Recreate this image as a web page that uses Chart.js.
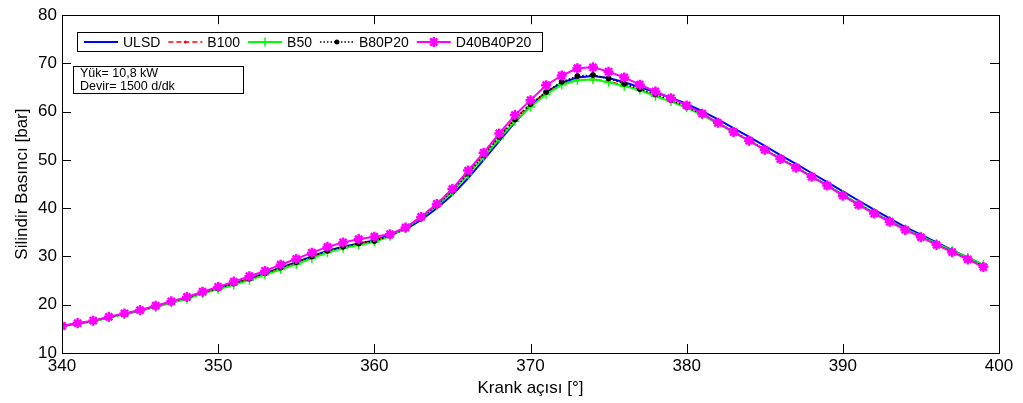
<!DOCTYPE html>
<html>
<head>
<meta charset="utf-8">
<script src="https://cdn.jsdelivr.net/npm/chart.js@4.4.1/dist/chart.umd.min.js"></script>
<style>
  html, body { margin: 0; padding: 0; background: #fff; }
  #wrap { width: 1023px; height: 403px; }
</style>
</head>
<body>
<div id="wrap"><canvas id="pressureChart"></canvas></div>
<script>
// krank açısı [°]
const crankAngle = [340, 341, 342, 343, 344, 345, 346, 347, 348, 349,
    350, 351, 352, 353, 354, 355, 356, 357, 358, 359,
    360, 361, 362, 363, 364, 365, 366, 367, 368, 369,
    370, 371, 372, 373, 374, 375, 376, 377, 378, 379,
    380, 381, 382, 383, 384, 385, 386, 387, 388, 389,
    390, 391, 392, 393, 394, 395, 396, 397, 398, 399];

const ulsd = [15.6, 16.1, 16.6, 17.4, 18.1, 18.8, 19.6, 20.5, 21.4, 22.4,
    23.4, 24.4, 25.4, 26.5, 27.7, 28.8, 30.0, 31.2, 32.0, 32.7,
    33.3, 34.5, 35.6, 37.6, 40.0, 42.8, 46.2, 50.0, 53.9, 57.8,
    61.2, 64.0, 66.0, 67.1, 67.4, 67.0, 66.1, 65.1, 64.0, 62.9,
    61.6, 60.1, 58.4, 56.6, 54.8, 52.9, 51.0, 49.2, 47.3, 45.4,
    43.5, 41.6, 39.7, 37.9, 36.1, 34.5, 32.9, 31.3, 29.8, 28.2];

const b100 = [15.6, 16.1, 16.6, 17.4, 18.1, 18.8, 19.6, 20.5, 21.4, 22.4,
    23.4, 24.4, 25.4, 26.5, 27.6, 28.7, 29.9, 31.1, 31.9, 32.6,
    33.2, 34.4, 36.0, 38.3, 41.0, 44.0, 47.5, 51.2, 55.0, 58.6,
    61.6, 64.0, 65.7, 66.6, 66.7, 66.3, 65.5, 64.5, 63.3, 62.2,
    60.9, 59.3, 57.6, 55.8, 54.0, 52.1, 50.3, 48.5, 46.6, 44.8,
    42.8, 40.9, 39.1, 37.4, 35.7, 34.2, 32.6, 31.1, 29.6, 28.1];

const b50 = [15.5, 16.0, 16.5, 17.3, 18.0, 18.7, 19.5, 20.4, 21.2, 22.3,
    23.2, 24.1, 25.1, 26.2, 27.3, 28.4, 29.6, 30.8, 31.7, 32.4,
    33.0, 34.2, 35.8, 38.0, 40.5, 43.4, 47.0, 50.6, 54.4, 58.0,
    61.0, 63.6, 65.6, 66.5, 66.7, 66.1, 65.3, 64.5, 63.2, 62.1,
    60.8, 59.3, 57.5, 55.7, 53.9, 52.1, 50.2, 48.5, 46.6, 44.8,
    42.8, 40.9, 39.1, 37.4, 35.7, 34.2, 32.7, 31.2, 29.8, 28.3];

const b80p20 = [15.6, 16.1, 16.6, 17.4, 18.1, 18.8, 19.7, 20.6, 21.5, 22.5,
    23.4, 24.4, 25.4, 26.5, 27.7, 28.8, 30.0, 31.2, 32.0, 32.7,
    33.2, 34.3, 35.8, 38.0, 40.6, 43.6, 47.2, 51.0, 54.8, 58.4,
    61.6, 64.1, 66.2, 67.4, 67.6, 66.9, 65.8, 64.7, 63.6, 62.4,
    61.0, 59.5, 57.7, 55.9, 54.1, 52.2, 50.3, 48.5, 46.6, 44.8,
    42.7, 40.8, 39.0, 37.3, 35.6, 34.1, 32.5, 31.0, 29.5, 28.0];

const d40b40p20 = [15.6, 16.2, 16.7, 17.5, 18.2, 18.9, 19.8, 20.7, 21.6, 22.7,
    23.7, 24.8, 25.9, 27.0, 28.3, 29.5, 30.8, 32.0, 32.9, 33.6,
    34.1, 34.6, 36.0, 38.2, 40.9, 44.0, 47.8, 51.5, 55.5, 59.3,
    62.4, 65.5, 67.5, 69.0, 69.2, 68.3, 67.1, 65.6, 64.2, 62.8,
    61.3, 59.6, 57.7, 55.8, 54.0, 52.1, 50.2, 48.4, 46.5, 44.7,
    42.6, 40.7, 38.9, 37.2, 35.5, 34.0, 32.4, 30.9, 29.4, 27.8];

const yTicks = [10, 20, 30, 40, 50, 60, 70, 80];
const xTicks = [340, 350, 360, 370, 380, 390, 400];
const infoLines = ['Yük= 10,8 kW', 'Devir= 1500 d/dk'];

function toPoints(values) {
    return values.map((v, i) => ({ x: crankAngle[i], y: v }));
}

const font = 'Arial, "Liberation Sans", sans-serif';

// MATLAB tarzı çerçeve, içe dönük çentikler, lejant ve bilgi kutusu
const matlabFrame = {
    id: 'matlabFrame',
    afterDraw(chart) {
        const ctx = chart.ctx;
        const a = chart.chartArea;
        const xs = chart.scales.x, ys = chart.scales.y;
        const tl = 9;
        ctx.save();
        ctx.strokeStyle = '#000';
        ctx.lineWidth = 1;
        ctx.setLineDash([]);
        ctx.strokeRect(Math.round(a.left) + 0.5, Math.round(a.top) + 0.5,
            Math.round(a.right - a.left), Math.round(a.bottom - a.top));
        ctx.beginPath();
        yTicks.forEach(v => {
            const y = Math.round(ys.getPixelForValue(v)) + 0.5;
            ctx.moveTo(a.left, y); ctx.lineTo(a.left + tl, y);
            ctx.moveTo(a.right, y); ctx.lineTo(a.right - tl, y);
        });
        xTicks.forEach(v => {
            const x = Math.round(xs.getPixelForValue(v)) + 0.5;
            ctx.moveTo(x, a.bottom); ctx.lineTo(x, a.bottom - tl);
            ctx.moveTo(x, a.top); ctx.lineTo(x, a.top + tl);
        });
        ctx.stroke();

        // lejant
        const lx = 77, ly = 32, lw = 465, lh = 19;
        ctx.fillStyle = '#fff';
        ctx.fillRect(lx, ly, lw, lh);
        ctx.strokeRect(lx + 0.5, ly + 0.5, lw, lh);
        ctx.font = '14px ' + font;
        ctx.textBaseline = 'middle';
        const my = ly + lh / 2 + 0.5;
        let x = lx + 7;
        chart.data.datasets.forEach(ds => {
            ctx.strokeStyle = ds.borderColor;
            ctx.lineWidth = ds.borderWidth;
            ctx.setLineDash(ds.borderDash || []);
            ctx.beginPath();
            ctx.moveTo(x, my); ctx.lineTo(x + 34, my);
            ctx.stroke();
            ctx.setLineDash([]);
            drawMarker(ctx, ds, x + 17, my);
            ctx.fillStyle = '#000';
            ctx.fillText(ds.label, x + 39, my + 1);
            x += 39 + ctx.measureText(ds.label).width + 8;
        });

        // bilgi kutusu
        ctx.lineWidth = 1;
        ctx.strokeStyle = '#000';
        ctx.fillStyle = '#fff';
        ctx.fillRect(73, 66, 170, 27);
        ctx.strokeRect(73.5, 66.5, 170, 27);
        ctx.fillStyle = '#000';
        ctx.font = '12.5px ' + font;
        ctx.fillText(infoLines[0], 80, 74);
        ctx.fillText(infoLines[1], 80, 87);
        ctx.restore();
    }
};

function drawMarker(ctx, ds, x, y) {
    const r = ds.pointRadius;
    if (!r) return;
    ctx.save();
    ctx.strokeStyle = ds.pointBorderColor || ds.borderColor;
    ctx.fillStyle = ds.pointBackgroundColor || ds.borderColor;
    ctx.lineWidth = ds.pointBorderWidth || 1;
    ctx.beginPath();
    if (ds.pointStyle === 'cross') {
        ctx.moveTo(x - r, y); ctx.lineTo(x + r, y);
        ctx.moveTo(x, y - r); ctx.lineTo(x, y + r);
        ctx.stroke();
    } else if (ds.pointStyle === 'star') {
        for (let k = 0; k < 4; k++) {
            const ang = k * Math.PI / 4;
            ctx.moveTo(x - r * Math.cos(ang), y - r * Math.sin(ang));
            ctx.lineTo(x + r * Math.cos(ang), y + r * Math.sin(ang));
        }
        ctx.stroke();
    } else {
        ctx.arc(x, y, r, 0, Math.PI * 2);
        ctx.fill();
    }
    ctx.restore();
}

new Chart(document.getElementById('pressureChart'), {
    type: 'line',
    data: {
        datasets: [{
            label: 'ULSD',
            data: toPoints(ulsd),
            borderColor: '#0000ff',
            borderWidth: 2,
            pointRadius: 0,
            order: 5
        }, {
            label: 'B100',
            data: toPoints(b100),
            borderColor: '#ff0000',
            borderWidth: 1.5,
            borderDash: [5, 3],
            pointStyle: 'circle',
            pointRadius: 1.5,
            pointBackgroundColor: '#ff0000',
            pointBorderColor: '#ff0000',
            pointBorderWidth: 1,
            order: 4
        }, {
            label: 'B50',
            data: toPoints(b50),
            borderColor: '#00ff00',
            borderWidth: 2,
            pointStyle: 'cross',
            pointRadius: 4.5,
            pointBorderColor: '#00ff00',
            pointBorderWidth: 1.5,
            order: 3
        }, {
            label: 'B80P20',
            data: toPoints(b80p20),
            borderColor: '#000000',
            borderWidth: 1.5,
            borderDash: [1.5, 2],
            pointStyle: 'circle',
            pointRadius: 2.5,
            pointBackgroundColor: '#000000',
            pointBorderColor: '#000000',
            pointBorderWidth: 1,
            order: 2
        }, {
            label: 'D40B40P20',
            data: toPoints(d40b40p20),
            borderColor: '#ff00ff',
            borderWidth: 2,
            pointStyle: 'star',
            pointRadius: 5,
            pointBackgroundColor: '#ff00ff',
            pointBorderColor: '#ff00ff',
            pointBorderWidth: 2.5,
            order: 1
        }]
    },
    options: {
        responsive: true,
        maintainAspectRatio: false,
        animation: false,
        layout: { padding: { top: 15, right: 24, left: 0, bottom: 0 } },
        plugins: {
            legend: { display: false },
            tooltip: { enabled: false }
        },
        scales: {
            x: {
                type: 'linear',
                min: 340,
                max: 400,
                afterFit: s => { s.height = 50; },
                afterBuildTicks: s => { s.ticks = xTicks.map(v => ({ value: v })); },
                grid: { display: false, drawTicks: false },
                border: { display: false },
                ticks: { color: '#000', font: { size: 17, family: font }, padding: 3, maxRotation: 0 },
                title: {
                    display: true,
                    text: 'Krank açısı [°]',
                    color: '#000',
                    font: { size: 17, family: font },
                    padding: { top: 0, bottom: 4 }
                }
            },
            y: {
                min: 10,
                max: 80,
                afterFit: s => { s.width = 62; },
                afterBuildTicks: s => { s.ticks = yTicks.map(v => ({ value: v })); },
                grid: { display: false, drawTicks: false },
                border: { display: false },
                ticks: { color: '#000', font: { size: 17, family: font }, padding: 5 },
                title: {
                    display: true,
                    text: 'Silindir Basıncı [bar]',
                    color: '#000',
                    font: { size: 17, family: font },
                    padding: { top: 12, bottom: 0 }
                }
            }
        }
    },
    plugins: [matlabFrame]
});
</script>
</body>
</html>
